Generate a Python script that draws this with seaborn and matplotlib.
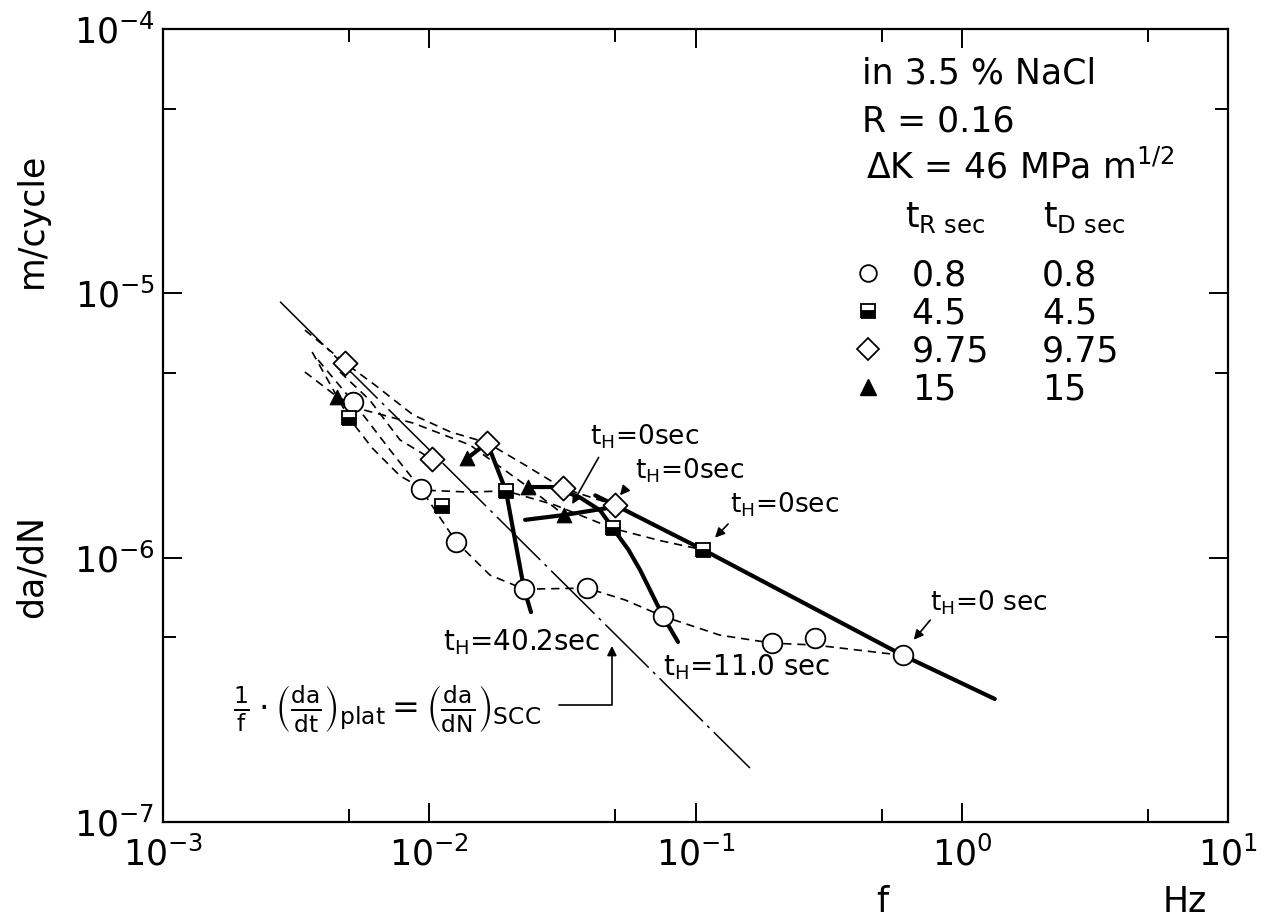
import matplotlib
matplotlib.use("Agg")
import matplotlib.pyplot as plt
import seaborn as sns
from matplotlib.lines import Line2D
from matplotlib.ticker import LogLocator, NullFormatter

# ──────────────────────────────
# Data (f in Hz, da/dN in m/cycle)
# ──────────────────────────────
# measured points, one set per waveform (tR = tD)
F_08 = [5.18e-3, 9.3e-3, 1.26e-2, 2.27e-2, 3.91e-2, 7.55e-2, 0.194, 0.281, 0.601]
DADN_08 = [3.88e-6, 1.82e-6, 1.15e-6, 7.6e-7, 7.67e-7, 6.0e-7, 4.75e-7, 4.96e-7, 4.27e-7]
F_45 = [5.0e-3, 1.12e-2, 1.94e-2, 4.9e-2, 0.107]
DADN_45 = [3.37e-6, 1.57e-6, 1.79e-6, 1.29e-6, 1.07e-6]
F_975 = [4.83e-3, 1.02e-2, 1.65e-2, 3.18e-2, 4.99e-2]
DADN_975 = [5.45e-6, 2.36e-6, 2.72e-6, 1.83e-6, 1.58e-6]
F_15 = [4.51e-3, 1.39e-2, 2.35e-2, 3.21e-2]
DADN_15 = [4.06e-6, 2.38e-6, 1.85e-6, 1.45e-6]

# hand-drawn dashed trend curves (waypoints)
CURVE_08_F = [3.82e-3, 5.18e-3, 7.13e-3, 9.3e-3, 1.26e-2, 1.69e-2, 2.27e-2, 3.91e-2,
              5.43e-2, 7.55e-2, 0.1236, 0.194, 0.281, 0.601]
CURVE_08_Y = [5.6e-6, 3.88e-6, 2.55e-6, 1.82e-6, 1.15e-6, 8.59e-7, 7.6e-7, 7.67e-7,
              6.92e-7, 6.0e-7, 5.09e-7, 4.75e-7, 4.67e-7, 4.27e-7]
CURVE_45_F = [3.63e-3, 5.0e-3, 6.1e-3, 7.76e-3, 9.64e-3, 1.42e-2, 1.94e-2, 2.97e-2,
              4.9e-2, 7.36e-2, 0.107]
CURVE_45_Y = [6.0e-6, 3.37e-6, 2.6e-6, 2.04e-6, 1.8e-6, 1.77e-6, 1.79e-6, 1.58e-6,
              1.29e-6, 1.16e-6, 1.07e-6]
CURVE_975_F = [3.41e-3, 4.83e-3, 6.25e-3, 8.69e-3, 1.2e-2, 1.65e-2, 2.29e-2, 3.18e-2, 4.99e-2]
CURVE_975_Y = [7.26e-6, 5.45e-6, 4.5e-6, 3.47e-6, 2.99e-6, 2.72e-6, 2.24e-6, 1.83e-6, 1.58e-6]
CURVE_975B_F = [4.62e-3, 5.98e-3, 7.76e-3, 1.02e-2]
CURVE_975B_Y = [5.04e-6, 3.94e-6, 2.79e-6, 2.36e-6]
CURVE_15_F = [3.41e-3, 4.51e-3, 5.74e-3, 8.69e-3, 1.42e-2, 2.35e-2, 3.21e-2]
CURVE_15_Y = [5.04e-6, 4.06e-6, 3.61e-6, 3.23e-6, 2.67e-6, 1.85e-6, 1.45e-6]

# thick curves at constant hold time t_H
TH0_F = [4.2e-2, 4.99e-2, 0.107, 0.601, 1.33]
TH0_Y = [1.72e-6, 1.58e-6, 1.07e-6, 4.27e-7, 2.92e-7]
TH0_TRI_F = [2.29e-2, 3.21e-2, 4.85e-2]
TH0_TRI_Y = [1.39e-6, 1.45e-6, 1.55e-6]
TH11_F = [2.35e-2, 2.92e-2, 3.68e-2, 4.38e-2, 4.9e-2, 5.6e-2, 6.19e-2, 7.55e-2, 8.59e-2]
TH11_Y = [1.85e-6, 1.85e-6, 1.69e-6, 1.51e-6, 1.29e-6, 1.07e-6, 8.98e-7, 6.0e-7, 4.8e-7]
TH40_F = [1.39e-2, 1.65e-2, 1.94e-2, 2.27e-2, 2.41e-2]
TH40_Y = [2.38e-6, 2.72e-6, 1.79e-6, 7.6e-7, 6.22e-7]

# (1/f)(da/dt)_plat line, slope -1
REF_F = [2.75e-3, 0.16]
REF_Y = [9.3e-6, 1.6e-7]

TR_LABELS = ["0.8", "4.5", "9.75", "15"]
TD_LABELS = ["0.8", "4.5", "9.75", "15"]

# ──────────────────────────────
# Style
# ──────────────────────────────
sns.set_style("ticks")
plt.rcParams["font.family"] = ["DejaVu Sans"]
plt.rcParams["mathtext.fontset"] = "dejavusans"
plt.rcParams["axes.linewidth"] = 1.6
for key in ["text.color", "axes.labelcolor", "axes.edgecolor", "xtick.color", "ytick.color"]:
    plt.rcParams[key] = "black"

fig = plt.figure(figsize=(12.68, 9.22), dpi=100)
ax = fig.add_axes([0.1286, 0.1085, 0.8399, 0.86])
ax.set_xscale("log")
ax.set_yscale("log")
ax.set_xlim(1e-3, 1e1)
ax.set_ylim(1e-7, 1e-4)

dash = dict(color="black", lw=1.2, linestyle=(0, (5, 3.5)), sort=False, estimator=None, ax=ax)
for xs, ys in [(CURVE_08_F, CURVE_08_Y), (CURVE_45_F, CURVE_45_Y), (CURVE_975_F, CURVE_975_Y),
               (CURVE_975B_F, CURVE_975B_Y), (CURVE_15_F, CURVE_15_Y)]:
    sns.lineplot(x=xs, y=ys, **dash)

sns.lineplot(x=REF_F, y=REF_Y, color="black", lw=1.1, linestyle=(0, (40, 4, 2, 4)),
             sort=False, estimator=None, ax=ax)

thick = dict(color="black", lw=3.0, sort=False, estimator=None, ax=ax)
for xs, ys in [(TH0_F, TH0_Y), (TH0_TRI_F, TH0_TRI_Y), (TH11_F, TH11_Y), (TH40_F, TH40_Y)]:
    sns.lineplot(x=xs, y=ys, **thick)

# markers
sns.scatterplot(x=F_08, y=DADN_08, marker="o", s=200, facecolor="white",
                edgecolor="black", linewidth=1.3, zorder=5, ax=ax)
sns.scatterplot(x=F_975, y=DADN_975, marker="D", s=150, facecolor="white",
                edgecolor="black", linewidth=1.3, zorder=5, ax=ax)
sns.scatterplot(x=F_15, y=DADN_15, marker="^", s=110, color="black",
                edgecolor="black", zorder=5, ax=ax)
ax.plot(F_45, DADN_45, ls="none", marker="s", ms=10, fillstyle="bottom",
        markerfacecolor="black", markerfacecoloralt="white", markeredgecolor="black",
        markeredgewidth=1.3, zorder=6)

# ──────────────────────────────
# Axes, ticks
# ──────────────────────────────
ax.xaxis.set_minor_locator(LogLocator(base=10, subs=[5.0]))
ax.yaxis.set_minor_locator(LogLocator(base=10, subs=[5.0]))
ax.xaxis.set_minor_formatter(NullFormatter())
ax.yaxis.set_minor_formatter(NullFormatter())
ax.tick_params(which="both", direction="in", top=True, right=True, width=1.4, labelsize=25)
ax.tick_params(which="major", length=14)
ax.tick_params(which="minor", length=9.5)
ax.tick_params(axis="x", pad=10)
ax.tick_params(axis="y", pad=6)
for sp in ax.spines.values():
    sp.set_visible(True)

fig.text(0.025, 1 - 220 / 922, "m/cycle", rotation=90, ha="center", va="center", fontsize=25)
fig.text(0.025, 1 - 566 / 922, "da/dN", rotation=90, ha="center", va="center", fontsize=25)
fig.text(882 / 1268, 1 - 902 / 922, "f", ha="center", va="center", fontsize=25)
fig.text(1185 / 1268, 1 - 902 / 922, "Hz", ha="center", va="center", fontsize=25)

# ──────────────────────────────
# Condition block + legend
# ──────────────────────────────
fig.text(862 / 1268, 1 - 73 / 922, "in 3.5 % NaCl", ha="left", va="center", fontsize=25)
fig.text(862 / 1268, 1 - 122 / 922, "R = 0.16", ha="left", va="center", fontsize=25)
fig.text(866 / 1268, 1 - 167 / 922, r"ΔK = 46 MPa m$^{1/2}$", ha="left", va="center", fontsize=25)
fig.text(905 / 1268, 1 - 218 / 922, r"t$_\mathregular{R\ sec}$", ha="left", va="center", fontsize=25)
fig.text(1043 / 1268, 1 - 218 / 922, r"t$_\mathregular{D\ sec}$", ha="left", va="center", fontsize=25)

handles = [
    Line2D([], [], ls="none", marker="o", ms=12, mfc="white", mec="black", mew=1.3),
    Line2D([], [], ls="none", marker="s", ms=10, fillstyle="bottom", mfc="black",
           markerfacecoloralt="white", mec="black", mew=1.3),
    Line2D([], [], ls="none", marker="D", ms=11, mfc="white", mec="black", mew=1.3),
    Line2D([], [], ls="none", marker="^", ms=11, mfc="black", mec="black"),
]
leg_kw = dict(loc="upper left", bbox_transform=fig.transFigure, frameon=False, fontsize=25,
              borderpad=0, borderaxespad=0, labelspacing=0.12)
leg1 = ax.legend(handles, TR_LABELS, bbox_to_anchor=(851 / 1268, 1 - 258 / 922),
                 handlelength=1.0, handletextpad=0.75, **leg_kw)
ax.add_artist(leg1)
blank = [Line2D([], [], ls="none") for _ in TD_LABELS]
ax.legend(blank, TD_LABELS, bbox_to_anchor=(1042 / 1268, 1 - 258 / 922),
          handlelength=0, handletextpad=0, **leg_kw)

# ──────────────────────────────
# Annotations
# ──────────────────────────────
TH0 = r"t$_\mathregular{H}$=0sec"
arrow = dict(arrowstyle="-|>", color="black", lw=1.2, mutation_scale=14)
ax.annotate(TH0, xy=(0.034, 1.56e-6), xytext=(590 / 1268, 1 - 437 / 922),
            textcoords="figure fraction", fontsize=19, va="center", ha="left")
ax.annotate("", xy=(0.034, 1.56e-6), xytext=(600 / 1268, 1 - 455 / 922),
            textcoords="figure fraction", arrowprops=arrow)
ax.annotate(TH0, xy=(5.12e-2, 1.69e-6), xytext=(635 / 1268, 1 - 471 / 922),
            textcoords="figure fraction", fontsize=19, va="center", ha="left")
ax.annotate("", xy=(5.12e-2, 1.69e-6), xytext=(627 / 1268, 1 - 487 / 922),
            textcoords="figure fraction", arrowprops=arrow)
ax.annotate(TH0, xy=(0.1164, 1.17e-6), xytext=(730 / 1268, 1 - 505 / 922),
            textcoords="figure fraction", fontsize=19, va="center", ha="left")
ax.annotate("", xy=(0.1164, 1.17e-6), xytext=(730 / 1268, 1 - 522 / 922),
            textcoords="figure fraction", arrowprops=arrow)
ax.annotate(r"t$_\mathregular{H}$=0 sec", xy=(0.65, 4.8e-7), xytext=(930 / 1268, 1 - 603 / 922),
            textcoords="figure fraction", fontsize=19, va="center", ha="left")
ax.annotate("", xy=(0.65, 4.8e-7), xytext=(932 / 1268, 1 - 618 / 922),
            textcoords="figure fraction", arrowprops=arrow)

fig.text(443 / 1268, 1 - 642 / 922, r"t$_\mathregular{H}$=40.2sec", ha="left", va="center", fontsize=20)
fig.text(663 / 1268, 1 - 667 / 922, r"t$_\mathregular{H}$=11.0 sec", ha="left", va="center", fontsize=20)

fig.text(233 / 1268, 1 - 708 / 922,
         r"$\frac{1}{\mathrm{f}}\cdot\left(\frac{\mathrm{da}}{\mathrm{dt}}\right)_{\mathrm{plat}}"
         r"=\left(\frac{\mathrm{da}}{\mathrm{dN}}\right)_{\mathrm{SCC}}$",
         ha="left", va="center", fontsize=24)
ax.annotate("", xy=(4.85e-2, 4.75e-7), xytext=(556 / 1268, 1 - 705 / 922),
            textcoords="figure fraction",
            arrowprops=dict(arrowstyle="-|>", color="black", lw=1.2, mutation_scale=14,
                            connectionstyle="angle,angleA=0,angleB=90,rad=0"))

fig.savefig("out.png", dpi=100)
